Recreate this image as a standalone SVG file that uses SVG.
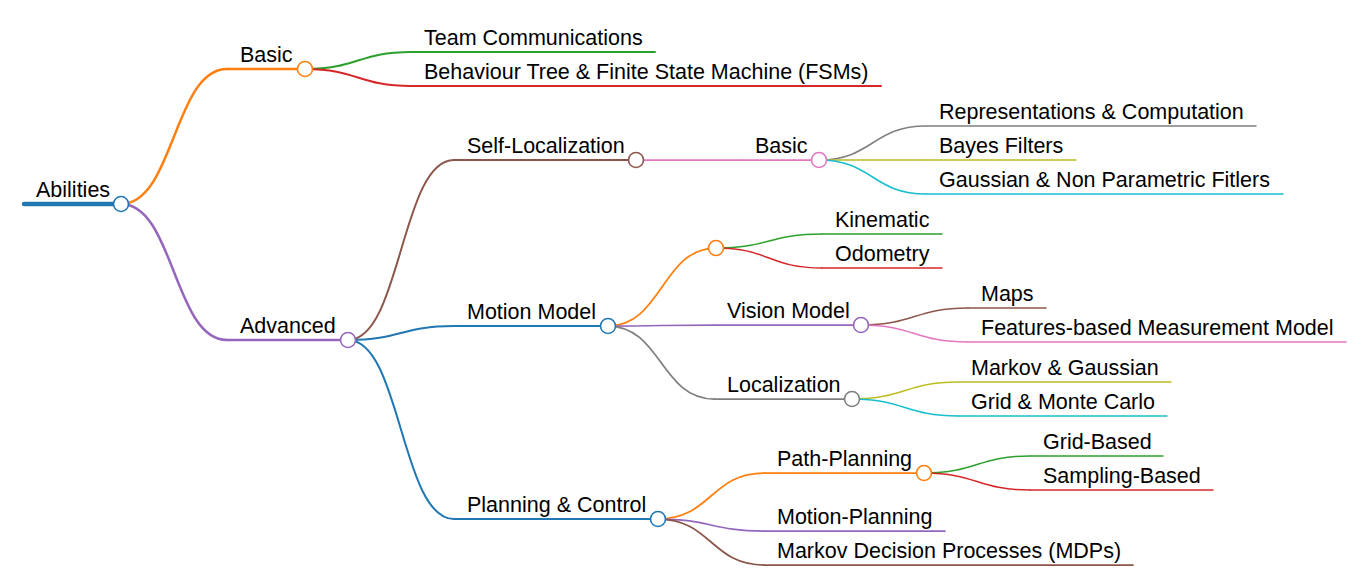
<svg xmlns="http://www.w3.org/2000/svg" width="1372" height="588" viewBox="0 0 1372 588">
<style>
text{font-family:"Liberation Sans",Arial,sans-serif;font-size:21.5px;fill:#000}
path,line{fill:none;stroke-linecap:round}
circle{fill:#fff;stroke-width:1.6}
.d0{stroke-width:4.5}.d1{stroke-width:2.5}.d2{stroke-width:2}.d3{stroke-width:1.75}.d4{stroke-width:1.5}
.c0{stroke:#1f77b4}.c1{stroke:#ff7f0e}.c2{stroke:#2ca02c}.c3{stroke:#d62728}.c4{stroke:#9467bd}
.c5{stroke:#8c564b}.c6{stroke:#e377c2}.c7{stroke:#7f7f7f}.c8{stroke:#bcbd22}.c9{stroke:#17becf}
</style>
<rect width="1372" height="588" fill="#fff"/>
<g id="connectors">
<path class="d1 c1" d="M121,204 C174,204 174,69 227,69"/>
<path class="d1 c4" d="M121,204 C174,204 174,340 227,340"/>
<path class="d2 c2" d="M305,69 C358,69 358,52 411,52"/>
<path class="d2 c3" d="M305,69 C358,69 358,86 411,86"/>
<path class="d2 c5" d="M348,340 C401,340 401,160 454,160"/>
<path class="d2 c0" d="M348,340 C401,340 401,326 454,326"/>
<path class="d2 c0" d="M348,340 C401,340 401,519 454,519"/>
<path class="d3 c6" d="M636,160 L742,160"/>
<path class="d4 c7" d="M819,160 C872.5,160 872.5,126 926,126"/>
<path class="d4 c8" d="M819,160 L926,160"/>
<path class="d4 c9" d="M819,160 C872.5,160 872.5,194 926,194"/>
<path class="d3 c1" d="M608,326 C662,326 662,248 716,248"/>
<path class="d4 c2" d="M716,248 C769,248 769,234 822,234"/>
<path class="d4 c3" d="M716,248 C769,248 769,268 822,268"/>
<path class="d3 c4" d="M608,326 C661,326 661,325 714,325"/>
<path class="d4 c5" d="M861,325 C914.5,325 914.5,308 968,308"/>
<path class="d4 c6" d="M861,325 C914.5,325 914.5,342 968,342"/>
<path class="d3 c7" d="M608,326 C661,326 661,399 714,399"/>
<path class="d4 c8" d="M852,399 C905,399 905,382 958,382"/>
<path class="d4 c9" d="M852,399 C905,399 905,416 958,416"/>
<path class="d3 c1" d="M658,519 C711,519 711,473 764,473"/>
<path class="d4 c2" d="M924,473 C977,473 977,456 1030,456"/>
<path class="d4 c3" d="M924,473 C977,473 977,490 1030,490"/>
<path class="d3 c4" d="M658,519 C711,519 711,531 764,531"/>
<path class="d3 c5" d="M658,519 C711,519 711,565 764,565"/>
</g>
<g id="n-abilities"><line class="d0 c0" x1="24" y1="204" x2="121" y2="204"/><circle class="c0" cx="121" cy="204" r="7.5"/><text x="36" y="196.5">Abilities</text></g>
<g id="n-basic"><line class="d1 c1" x1="227" y1="69" x2="305" y2="69"/><circle class="c1" cx="305" cy="69" r="7.5"/><text x="240" y="61.5">Basic</text></g>
<g id="n-advanced"><line class="d1 c4" x1="227" y1="340" x2="348" y2="340"/><circle class="c4" cx="348" cy="340" r="7.5"/><text x="240" y="332.5">Advanced</text></g>
<g id="n-team"><line class="d2 c2" x1="411" y1="52" x2="655" y2="52"/><text x="424" y="44.5">Team Communications</text></g>
<g id="n-behaviour"><line class="d2 c3" x1="411" y1="86" x2="881" y2="86"/><text x="424" y="78.5">Behaviour Tree &amp; Finite State Machine (FSMs)</text></g>
<g id="n-selfloc"><line class="d2 c5" x1="454" y1="160" x2="636" y2="160"/><circle class="c5" cx="636" cy="160" r="7.5"/><text x="467" y="152.5">Self-Localization</text></g>
<g id="n-motionmodel"><line class="d2 c0" x1="454" y1="326" x2="608" y2="326"/><circle class="c0" cx="608" cy="326" r="7.5"/><text x="467" y="318.5">Motion Model</text></g>
<g id="n-planning"><line class="d2 c0" x1="454" y1="519" x2="658" y2="519"/><circle class="c0" cx="658" cy="519" r="7.5"/><text x="467" y="511.5">Planning &amp; Control</text></g>
<g id="n-basic2"><line class="d3 c6" x1="742" y1="160" x2="819" y2="160"/><circle class="c6" cx="819" cy="160" r="7.5"/><text x="755" y="152.5">Basic</text></g>
<g id="n-repr"><line class="d4 c7" x1="926" y1="126" x2="1256" y2="126"/><text x="939" y="118.5">Representations &amp; Computation</text></g>
<g id="n-bayes"><line class="d4 c8" x1="926" y1="160" x2="1076" y2="160"/><text x="939" y="152.5">Bayes Filters</text></g>
<g id="n-gaussian"><line class="d4 c9" x1="926" y1="194" x2="1283" y2="194"/><text x="939" y="186.5">Gaussian &amp; Non Parametric Fitlers</text></g>
<g id="n-empty"><circle class="c1" cx="716" cy="248" r="7.5"/></g>
<g id="n-kinematic"><line class="d4 c2" x1="822" y1="234" x2="942" y2="234"/><text x="835" y="226.5">Kinematic</text></g>
<g id="n-odometry"><line class="d4 c3" x1="822" y1="268" x2="942" y2="268"/><text x="835" y="260.5">Odometry</text></g>
<g id="n-vision"><line class="d3 c4" x1="714" y1="325" x2="861" y2="325"/><circle class="c4" cx="861" cy="325" r="7.5"/><text x="727" y="317.5">Vision Model</text></g>
<g id="n-maps"><line class="d4 c5" x1="968" y1="308" x2="1046" y2="308"/><text x="981" y="300.5">Maps</text></g>
<g id="n-features"><line class="d4 c6" x1="968" y1="342" x2="1346" y2="342"/><text x="981" y="334.5">Features-based Measurement Model</text></g>
<g id="n-localization"><line class="d3 c7" x1="714" y1="399" x2="852" y2="399"/><circle class="c7" cx="852" cy="399" r="7.5"/><text x="727" y="391.5">Localization</text></g>
<g id="n-markov"><line class="d4 c8" x1="958" y1="382" x2="1171" y2="382"/><text x="971" y="374.5">Markov &amp; Gaussian</text></g>
<g id="n-gridmc"><line class="d4 c9" x1="958" y1="416" x2="1167" y2="416"/><text x="971" y="408.5">Grid &amp; Monte Carlo</text></g>
<g id="n-pathplanning"><line class="d3 c1" x1="764" y1="473" x2="924" y2="473"/><circle class="c1" cx="924" cy="473" r="7.5"/><text x="777" y="465.5">Path-Planning</text></g>
<g id="n-gridbased"><line class="d4 c2" x1="1030" y1="456" x2="1163" y2="456"/><text x="1043" y="448.5">Grid-Based</text></g>
<g id="n-sampling"><line class="d4 c3" x1="1030" y1="490" x2="1213" y2="490"/><text x="1043" y="482.5">Sampling-Based</text></g>
<g id="n-motionplanning"><line class="d3 c4" x1="764" y1="531" x2="945" y2="531"/><text x="777" y="523.5">Motion-Planning</text></g>
<g id="n-mdp"><line class="d3 c5" x1="764" y1="565" x2="1133" y2="565"/><text x="777" y="557.5">Markov Decision Processes (MDPs)</text></g>
</svg>
